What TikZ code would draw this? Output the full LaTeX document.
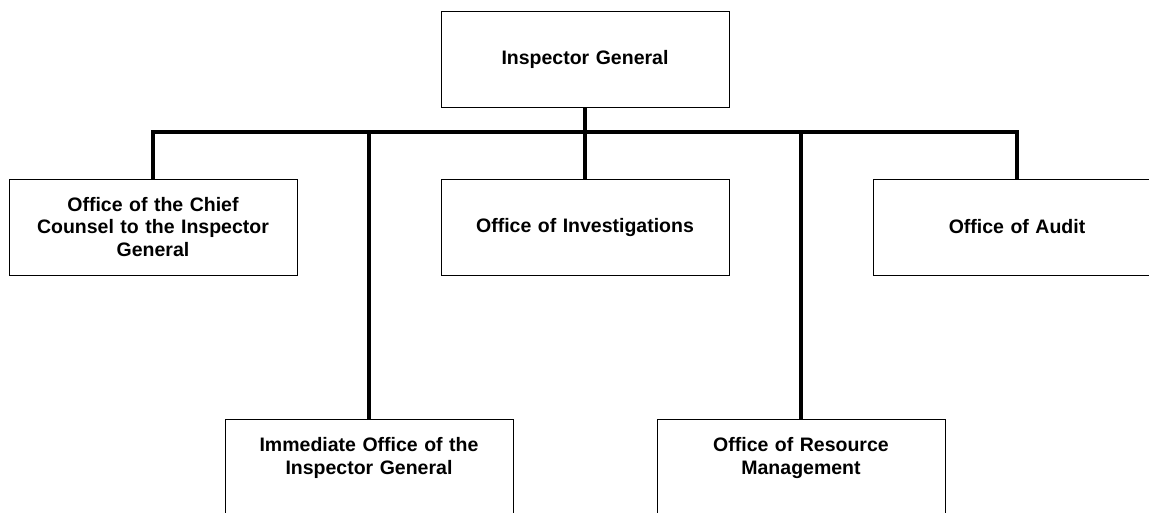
\documentclass[tikz,border=0pt]{standalone}
\usepackage{fontspec}
\setmainfont{Liberation Sans}
\usetikzlibrary{calc}

\tikzset{
    office/.style={draw, line width=0.8pt, minimum width=288pt, minimum height=96pt,
                   text width=270pt, align=center, inner sep=0pt,
                   font=\fontsize{19.5}{22.5}\selectfont\bfseries},
    wire/.style={line width=3.3pt}
}

\begin{document}
\begin{tikzpicture}[x=1pt, y=-1pt, line cap=butt, line join=miter]
    \useasboundingbox (0,0) rectangle (1149,512);

    % top of the chart
    \node[office] (ig) at (585,59) {Inspector General};

    % first row
    \node[office] (chief) at (153,227) {Office of the Chief\\Counsel to the Inspector\\General};
    \node[office] (invest) at (585,227) {Office of Investigations};
    \node[office] (audit) at (1017,227) {Office of Audit};

    % second row (text sits high in the box)
    \node[office] (immed) at (369,467) {Immediate Office of the\\Inspector General\\~};
    \node[office] (resmgmt) at (801,467) {Office of Resource\\Management\\~};

    % the bus
    \coordinate (busL) at (153,132);
    \coordinate (busR) at (1017,132);
    \draw[wire] ($(busL)+(-1.65,0)$) -- ($(busR)+(1.65,0)$);
    \draw[wire] (ig.south) -- (ig.south |- busL);

    % drops to each office
    \draw[wire] (busL) -- (chief.north);
    \draw[wire] (busR) -- (audit.north);
    \draw[wire] (invest.north |- busL) -- (invest.north);
    \draw[wire] (immed.north |- busL) -- (immed.north);
    \draw[wire] (resmgmt.north |- busL) -- (resmgmt.north);
\end{tikzpicture}
\end{document}
